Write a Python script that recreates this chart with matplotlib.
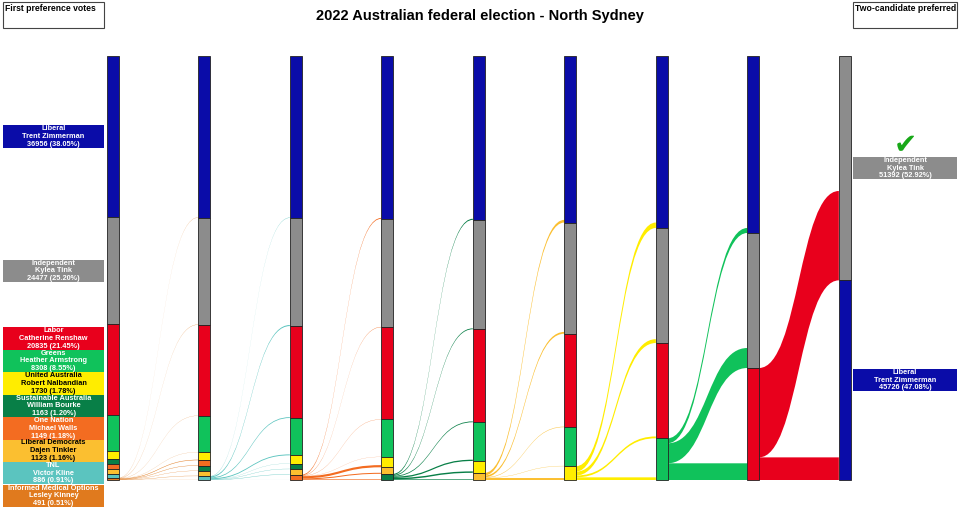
import matplotlib
matplotlib.use('Agg')
import matplotlib.pyplot as plt
from matplotlib.patches import Rectangle, PathPatch
from matplotlib.path import Path

plt.rcParams['font.family'] = ['Liberation Sans', 'DejaVu Sans']

# candidates, ordered by first preferences
names = ['Trent Zimmerman', 'Kylea Tink', 'Catherine Renshaw', 'Heather Armstrong',
         'Robert Nalbandian', 'William Bourke', 'Michael Walls', 'Dajen Tinkler',
         'Victor Kline', 'Lesley Kinney']
parties = ['Liberal', 'Independent', 'Labor', 'Greens', 'United Australia',
           'Sustainable Australia', 'One Nation', 'Liberal Democrats', 'TNL',
           'Informed Medical Options']
colours = ['#0a0ca8', '#8c8c8c', '#e8001c', '#10c25b', '#ffed00',
           '#087f47', '#f36c21', '#fbbf30', '#5bc4bf', '#e07a1e']
text_colours = ['white', 'white', 'white', 'white', 'black',
                'white', 'white', 'black', 'white', 'white']
first_prefs = [36956, 24477, 20835, 8308, 1730, 1163, 1149, 1123, 886, 491]

# votes passed on at each exclusion, listed in candidate order
from_kinney = [50, 55, 35, 30, 110, 50, 80, 60, 21, 0]
from_kline = [80, 240, 190, 210, 40, 62, 5, 80, 0, 0]
from_walls = [200, 80, 50, 30, 500, 144, 0, 230, 0, 0]
from_bourke = [250, 200, 190, 300, 330, 0, 0, 149, 0, 0]
from_tinkler = [610, 410, 105, 65, 452, 0, 0, 0, 0, 0]
from_nalbandian = [1251, 878, 424, 609, 0, 0, 0, 0, 0, 0]
from_armstrong = [1145, 4582, 3825, 0, 0, 0, 0, 0, 0, 0]
from_renshaw = [5184, 20470, 0, 0, 0, 0, 0, 0, 0, 0]

excluded = [9, 8, 6, 5, 7, 4, 3, 2]
transfers = [from_kinney, from_kline, from_walls, from_bourke,
             from_tinkler, from_nalbandian, from_armstrong, from_renshaw]

total = sum(first_prefs)

# counts for every count round
rounds = [dict(enumerate(first_prefs))]
for e, tr in zip(excluded, transfers):
    prev = rounds[-1]
    nxt = {c: v + tr[c] for c, v in prev.items() if c != e}
    rounds.append(nxt)

# layout helpers (pixel -> data)
W, H = 960, 509
x_first, x_step = 112.7, 91.5
y_top, y_bot = 56, 480
vpp = total / (y_bot - y_top)  # votes per pixel
bw = 11.7 / x_step


def X(px):
    return (px - x_first) / x_step


def Y(py):
    return (py - y_top) * vpp


fig = plt.figure(figsize=(W / 100, H / 100), dpi=100)
ax = fig.add_axes([0, 0, 1, 1])
ax.set_xlim(X(0), X(W))
ax.set_ylim(Y(H), Y(0))
ax.axis('off')

# stacked bars
spans = []
for r, counts in enumerate(rounds):
    order = sorted(counts, key=lambda c: -counts[c])
    y = 0
    sp = {}
    for c in order:
        sp[c] = (y, y + counts[c])
        ax.add_patch(Rectangle((r - bw / 2, y), bw, counts[c], facecolor=colours[c],
                               edgecolor='#222222', linewidth=0.6, zorder=3))
        y += counts[c]
    spans.append(sp)

# preference flows
for r, (e, tr) in enumerate(zip(excluded, transfers)):
    src_top = spans[r][e][0]
    x0, x1 = r + bw / 2, r + 1 - bw / 2
    xm = (x0 + x1) / 2
    targets = sorted(spans[r + 1], key=lambda c: spans[r + 1][c][0])
    s = src_top
    for c in targets:
        f = tr[c]
        if f <= 0:
            continue
        t1 = spans[r + 1][c][1]
        t0 = t1 - f
        s0, s1 = s, s + f
        verts = [(x0, s0), (xm, s0), (xm, t0), (x1, t0), (x1, t1),
                 (xm, t1), (xm, s1), (x0, s1), (x0, s0)]
        codes = [Path.MOVETO, Path.CURVE4, Path.CURVE4, Path.CURVE4, Path.LINETO,
                 Path.CURVE4, Path.CURVE4, Path.CURVE4, Path.CLOSEPOLY]
        ax.add_patch(PathPatch(Path(verts, codes), facecolor=colours[e], edgecolor='none',
                               alpha=1.0, zorder=2))
        s = s1


def label(c, count, cy, xl, xr):
    h = 22.5 * vpp
    ax.add_patch(Rectangle((X(xl), cy - h / 2), X(xr) - X(xl), h, facecolor=colours[c],
                           edgecolor='none', zorder=4, clip_on=False))
    txt = f"{parties[c]}\n{names[c]}\n{count} ({count / total * 100:.2f}%)"
    ax.text((X(xl) + X(xr)) / 2, cy, txt, ha='center', va='center', fontsize=5.3,
            fontweight='bold', color=text_colours[c], linespacing=1.15, zorder=5)


# left labels: place at segment centres, push down then clamp at the bottom
box_h = 22.5 * vpp
order0 = sorted(rounds[0], key=lambda c: -rounds[0][c])
centres = [(spans[0][c][0] + spans[0][c][1]) / 2 for c in order0]
for i in range(1, len(centres)):
    centres[i] = max(centres[i], centres[i - 1] + box_h)
limit = Y(507) - box_h / 2
for i in range(len(centres) - 1, -1, -1):
    centres[i] = min(centres[i], limit)
    limit = centres[i] - box_h
for c, cy in zip(order0, centres):
    label(c, first_prefs[c], cy, 3, 104)

# right labels
final = rounds[-1]
for c in final:
    cy = (spans[-1][c][0] + spans[-1][c][1]) / 2
    label(c, final[c], cy, 853, 957)
winner = max(final, key=lambda c: final[c])
ax.text(X(905), (spans[-1][winner][0] + spans[-1][winner][1]) / 2 - 23 * vpp, '\u2714',
        ha='center', va='center', fontsize=20, color='#18a818', family='DejaVu Sans', zorder=5)

# header boxes
for xl, xr, txt in [(3, 104, 'First preference votes'), (853, 957, 'Two-candidate preferred')]:
    ax.add_patch(Rectangle((X(xl), Y(2)), X(xr) - X(xl), Y(28) - Y(2), facecolor='white',
                           edgecolor='#444444', linewidth=0.8, clip_on=False))
    ax.text(X(xl + 2), Y(4), txt, ha='left', va='top', fontsize=6.2, fontweight='bold')

ax.text(X(480), Y(16), '2022 Australian federal election - North Sydney', ha='center',
        va='center', fontsize=10.5, fontweight='bold')

fig.savefig('out.png', dpi=100)
